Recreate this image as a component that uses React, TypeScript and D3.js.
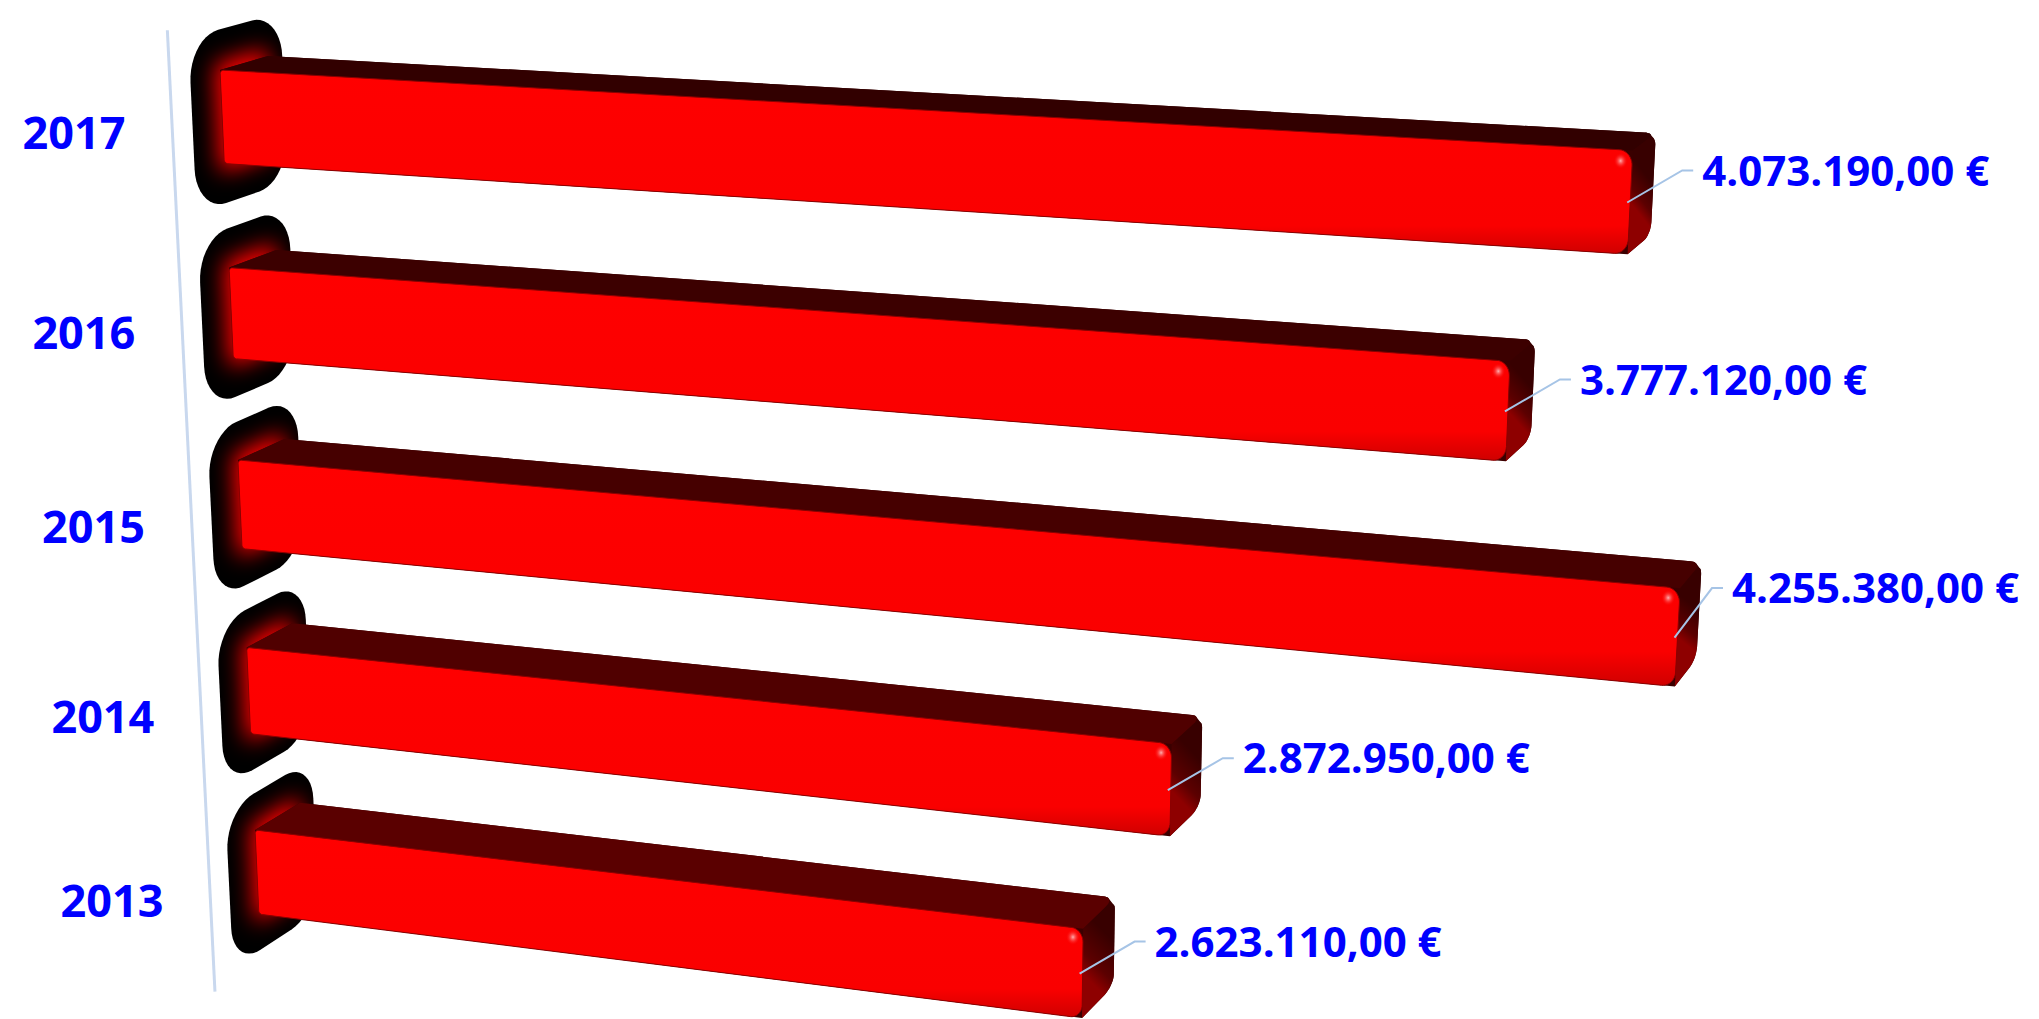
import React, { useMemo } from 'react';
import * as d3 from 'd3';

// chart data
const years = ['2017', '2016', '2015', '2014', '2013'];
const amounts = [4073190, 3777120, 4255380, 2872950, 2623110];

const W = 2039;
const H = 1019;

// perspective camera (homography) fitted to the reference view
// world: u = value in millions, v = category slot, z = depth
const cam = { a: 305.0, b: 12.2, c: 220, d: 15.89, e: 201.2, f: 70, g: -0.02563, h: 0.0135, k: 53.3, m: 0.01968, n: -12.89 };
const project = (u: number, v: number, z: number): [number, number] => {
  const den = cam.g * u + cam.h * v + cam.m * z + 1;
  return [(cam.a * u + cam.b * v + cam.k * z + cam.c) / den, (cam.d * u + cam.e * v + cam.n * z + cam.f) / den];
};

const euro = d3.formatLocale({ decimal: ',', thousands: '.', grouping: [3], currency: ['', ' €'] }).format('$,.2f');

type R = [number, number];
// rounded rectangle in a plane's parameter space, projected to screen
function roundPts(p0: number, p1: number, q0: number, q1: number, radii: R[], map: (p: number, q: number) => [number, number]) {
  const centers: [number, number, number][] = [
    [p1 - radii[1][0], q0 + radii[1][1], -Math.PI / 2],
    [p1 - radii[2][0], q1 - radii[2][1], 0],
    [p0 + radii[3][0], q1 - radii[3][1], Math.PI / 2],
    [p0 + radii[0][0], q0 + radii[0][1], Math.PI],
  ];
  const order = [1, 2, 3, 0];
  const pts: [number, number][] = [];
  centers.forEach(([cp, cq, t0], i) => {
    const [rp, rq] = radii[order[i]];
    const steps = rp === 0 && rq === 0 ? 1 : 12;
    for (let s = 0; s < steps; s++) {
      const t = t0 + (Math.PI / 2) * (steps === 1 ? 0 : s / (steps - 1));
      pts.push(map(cp + rp * Math.cos(t), cq + rq * Math.sin(t)));
    }
  });
  return pts;
}
const toPath = (pts: [number, number][]) => 'M' + pts.map((p) => p[0].toFixed(1) + ',' + p[1].toFixed(1)).join('L') + 'Z';
const roundRect = (p0: number, p1: number, q0: number, q1: number, radii: R[], map: (p: number, q: number) => [number, number]) =>
  toPath(roundPts(p0, p1, q0, q1, radii, map));

const topShade = d3.interpolateRgb('#320000', '#5a0000');

export default function App() {
  const x = d3.scaleLinear().domain([0, 1e6]).range([0, 1]);
  const y = d3.scaleBand().domain(years).range([-0.265, 4.735]).paddingInner(0.53).paddingOuter(0.265);
  const depth = 1;
  const bw = y.bandwidth();
  const valueFont = 42;
  const yearFont = 45;

  const measure = useMemo(() => {
    const ctx = document.createElement('canvas').getContext('2d');
    return (s: string) => {
      if (!ctx) return s.length * valueFont * 0.5;
      ctx.font = `bold ${valueFont}px "Open Sans"`;
      return ctx.measureText(s).width;
    };
  }, []);

  const axisTop = project(0, y.range()[0], -1);
  const axisBot = project(0, y.range()[1], -1);

  const blobPath = (v0: number) =>
    roundRect(v0 - 0.2, v0 + bw + 0.2, -0.6, 1.3, [[0.22, 0.6], [0.22, 0.6], [0.22, 0.6], [0.22, 0.6]], (v, z) => project(0, v, z));

  return (
    <svg width={W} height={H} style={{ position: 'absolute', left: 0, top: 0, background: '#fff' }} fontFamily="'Open Sans', sans-serif">
      <defs>
        <filter id="glow" x="-50%" y="-50%" width="200%" height="200%">
          <feGaussianBlur stdDeviation="11" />
        </filter>
        <linearGradient id="frontGrad" x1="0" y1="0" x2="0" y2="1">
          <stop offset="0" stopColor="#ff0000" />
          <stop offset="0.85" stopColor="#fa0000" />
          <stop offset="1" stopColor="#d00000" />
        </linearGradient>
        <radialGradient id="spec">
          <stop offset="0" stopColor="#ffd0d0" stopOpacity="0.85" />
          <stop offset="1" stopColor="#ff0000" stopOpacity="0" />
        </radialGradient>
        {years.map((yr, i) => {
          const v0 = y(yr)!;
          const u1 = x(amounts[i]);
          const [fx, fy] = project(u1, v0 + bw / 2, 0);
          const [bx, by] = project(u1, v0 + bw / 2, depth);
          return (
            <linearGradient key={yr} id={`side${i}`} gradientUnits="userSpaceOnUse" x1={fx} y1={fy} x2={bx} y2={by}>
              <stop offset="0" stopColor="#8e0000" />
              <stop offset="0.35" stopColor="#5c0000" />
              <stop offset="1" stopColor="#380000" />
            </linearGradient>
          );
        })}
        {years.map((yr) => (
          <clipPath key={yr} id={`blob${yr}`}>
            <path d={blobPath(y(yr)!)} />
          </clipPath>
        ))}
      </defs>

      {/* axis line */}
      <line x1={axisTop[0]} y1={axisTop[1]} x2={axisBot[0]} y2={axisBot[1]} stroke="#c9d8ee" strokeWidth={3} />

      {/* year labels */}
      {years.map((yr) => {
        const [lx, ly] = project(0, y(yr)! + bw / 2, -1);
        return (
          <text key={yr} x={lx - 47} y={ly + yearFont * 0.36} textAnchor="end" fontSize={yearFont} fontWeight="bold" fill="#0000ff">
            {yr}
          </text>
        );
      })}

      {/* wall shadows */}
      {years.map((yr) => {
        const v0 = y(yr)!;
        const cross = roundRect(v0 - 0.04, v0 + bw + 0.04, -0.1, 1.0, [[0.03, 0.08], [0.03, 0.08], [0.03, 0.08], [0.03, 0.08]], (v, z) => project(0, v, z));
        return (
          <g key={yr}>
            <path d={blobPath(v0)} fill="#000" />
            <g clipPath={`url(#blob${yr})`}>
              <path d={cross} fill="#ff0000" filter="url(#glow)" />
            </g>
          </g>
        );
      })}

      {/* bars */}
      {years.map((yr, i) => {
        const v0 = y(yr)!;
        const v1 = v0 + bw;
        const u1 = x(amounts[i]);
        const topPts = roundPts(0, u1, 0, depth, [[0, 0], [0, 0], [0.03, 0.3], [0, 0]], (u, z) => project(u, v0, z));
        const sidePts = roundPts(v0, v1, 0, depth, [[0, 0], [0, 0], [0.06, 0.3], [0.06, 0.3]], (v, z) => project(u1, v, z));
        const frontPts = roundPts(0, u1, v0, v1, [[0.012, 0.02], [0.035, 0.07], [0.035, 0.07], [0.012, 0.02]], (u, v) => project(u, v, 0));
        const hull = d3.polygonHull([...topPts, ...sidePts, ...frontPts]) as [number, number][];
        const [sx, sy] = project(u1 - 0.03, v0 + 0.05, 0);
        return (
          <g key={yr}>
            <path d={toPath(hull)} fill="#3a0000" />
            <path d={toPath(topPts)} fill={topShade(i / (years.length - 1))} />
            <path d={toPath(sidePts)} fill={`url(#side${i})`} />
            <path d={toPath(frontPts)} fill="url(#frontGrad)" stroke="#8a0000" strokeWidth={1} />
            <ellipse cx={sx} cy={sy} rx={7} ry={8} fill="url(#spec)" />
          </g>
        );
      })}

      {/* value labels with leader lines */}
      {years.map((yr, i) => {
        const v0 = y(yr)!;
        const u1 = x(amounts[i]);
        const label = euro(amounts[i]);
        const [ax, ay] = project(u1, v0 + bw / 2, 0);
        let kx = ax + 52;
        let ky = ay - 32;
        const tw = measure(label);
        const over = kx + 20 + tw - (W - 20);
        if (over > 0) {
          kx -= over;
          ky -= over;
        }
        return (
          <g key={yr}>
            <polyline points={`${ax - 3},${ay} ${kx},${ky} ${kx + 11},${ky}`} fill="none" stroke="#a6c4e6" strokeWidth={2} />
            <text x={kx + 20} y={ky + valueFont * 0.36} fontSize={valueFont} fontWeight="bold" fill="#0000ff">
              {label}
            </text>
          </g>
        );
      })}
    </svg>
  );
}
